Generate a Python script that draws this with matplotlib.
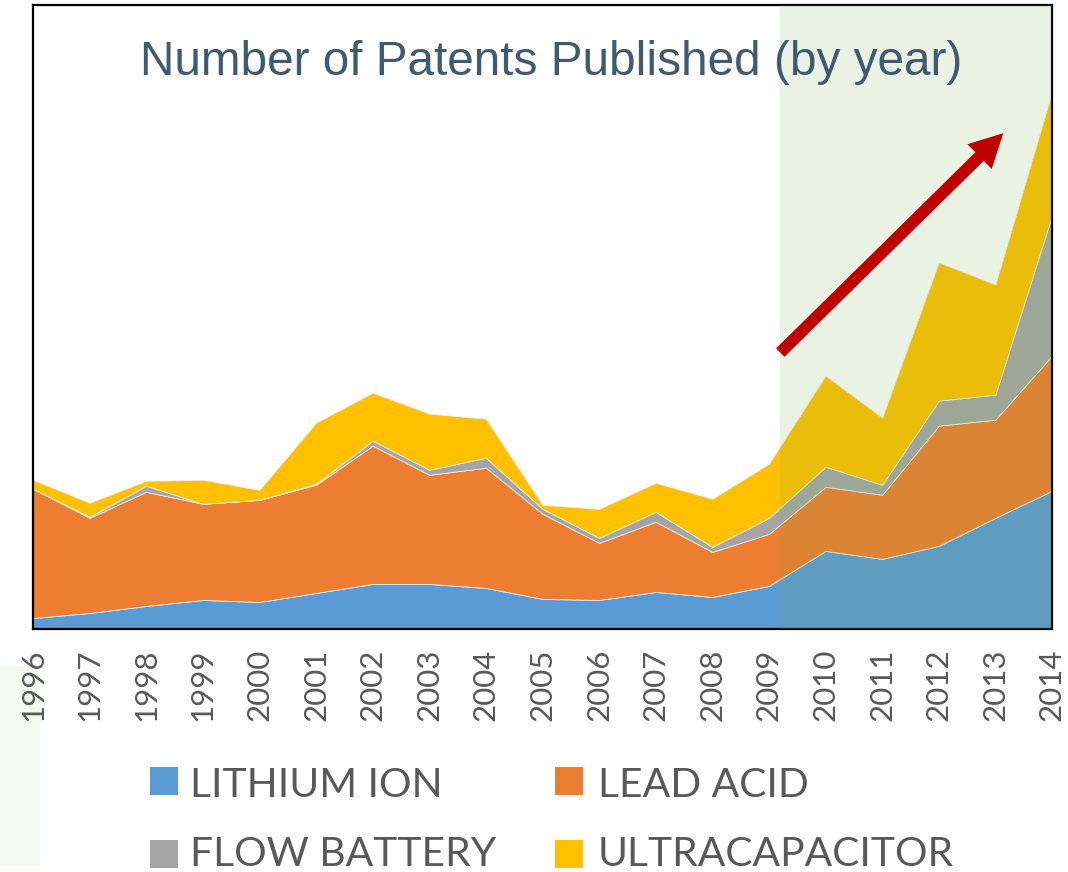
import matplotlib
matplotlib.use("Agg")
import matplotlib.pyplot as plt
from matplotlib.patches import Rectangle, FancyArrowPatch

years = list(range(1996, 2015))
lithium_ion = [11, 16, 23, 29, 27, 36, 45, 45, 41, 30, 29, 37, 32, 43, 78, 70, 83, 111, 138]
lead_acid = [129, 95, 114, 96, 102, 108, 138, 109, 120, 85, 57, 70, 45, 52, 64, 64, 120, 98, 135]
flow_battery = [0, 1, 6, 0, 0, 1, 5, 5, 10, 5, 5, 10, 5, 16, 20, 10, 25, 25, 140]
ultracapacitor = [9, 14, 5, 24, 10, 61, 48, 56, 39, 4, 29, 29, 48, 54, 91, 67, 138, 110, 123]
series_names = ["LITHIUM ION", "LEAD ACID", "FLOW BATTERY", "ULTRACAPACITOR"]
colors = ["#5B9BD5", "#ED7D31", "#A5A5A5", "#FFC000"]
title = "Number of Patents Published (by year)"
highlight_start = 2009.2
arrow_start = (2009.2, 276)
arrow_end = (2013.14, 495)

W, H = 1068, 872
fig = plt.figure(figsize=(W / 100, H / 100), dpi=100)

# faint green rectangle at lower left (behind everything)
bg = Rectangle((0, 1 - 866 / H), 40 / W, 200 / H, transform=fig.transFigure,
               facecolor="#F4F9EF", edgecolor="none", zorder=-5)
fig.patches.append(bg)

ax = fig.add_axes([33 / W, 1 - 629 / H, (1052 - 33) / W, (629 - 5) / H])
ax.set_zorder(1)
ax.patch.set_alpha(0)

ax.stackplot(years, lithium_ion, lead_acid, flow_battery, ultracapacitor,
             colors=colors, linewidth=0.6, edgecolor="#eeeeee", zorder=2)
ax.set_xlim(years[0], years[-1])
ax.set_ylim(0, 623)
ax.set_yticks([])
ax.set_xticks(years)
ax.set_xticklabels([str(y) for y in years], rotation=90, fontsize=22.5,
                   color="#595959", family=["Lato", "DejaVu Sans"], ha="center", va="top")
ax.tick_params(axis="x", length=0, pad=14)
for s in ax.spines.values():
    s.set_color("black")
    s.set_linewidth(1.6)

ax.axvspan(highlight_start, years[-1], color="#70AD47", alpha=0.15, lw=0, zorder=3)

arrow = FancyArrowPatch(arrow_start, arrow_end,
                        arrowstyle="simple,head_length=24,head_width=25,tail_width=8.6",
                        mutation_scale=1, color="#C00000", lw=0, shrinkA=0, shrinkB=0, zorder=4)
ax.add_patch(arrow)

fig.text(551.5 / W, 1 - 75 / H, title, fontsize=34.4, color="#405A72",
         family=["Liberation Sans", "DejaVu Sans"], ha="center", va="baseline")

# legend
leg_pos = [(150, 767, 190, 797), (555, 767, 598, 797), (150, 840, 190, 866), (555, 840, 598, 866)]
for name, col, (bx, by, tx, ty) in zip(series_names, colors, leg_pos):
    fig.patches.append(Rectangle((bx / W, 1 - (by + 28) / H), 28 / W, 28 / H,
                                 transform=fig.transFigure, facecolor=col, edgecolor="none"))
    fig.text(tx / W, 1 - ty / H, name, fontsize=29.3, color="#595959",
             family=["Lato", "DejaVu Sans"], ha="left", va="baseline")

fig.savefig("out.png", dpi=100)
